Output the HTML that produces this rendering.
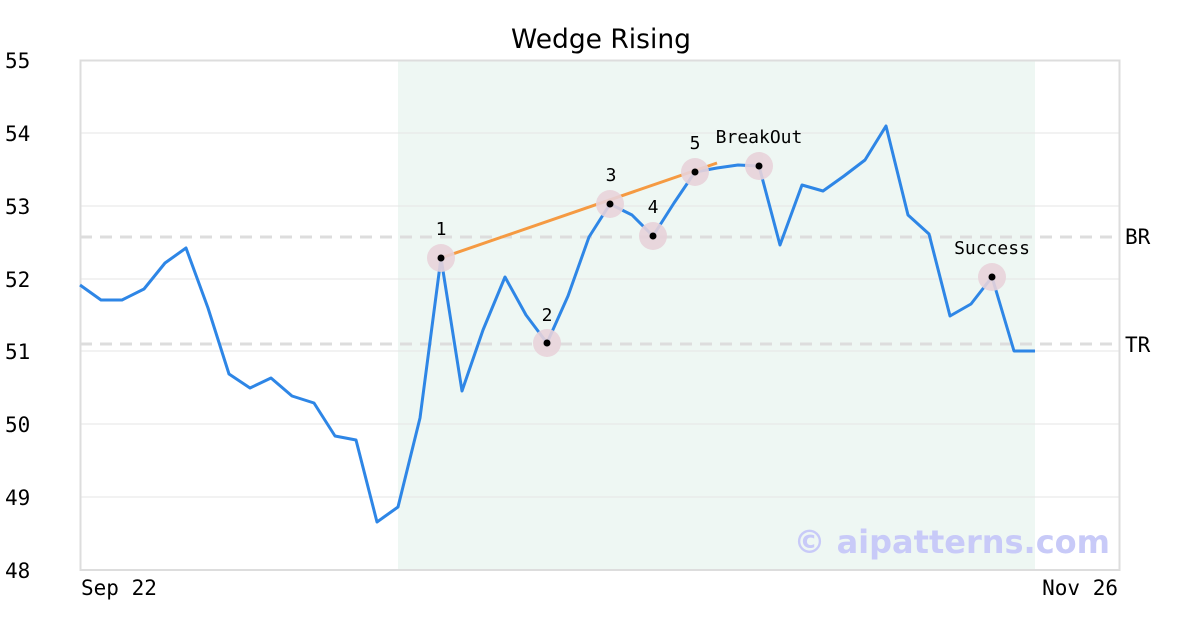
<!DOCTYPE html>
<html><head><meta charset="utf-8"><style>
html,body{margin:0;padding:0;background:#fff;}
svg{display:block;}
text{font-family:"DejaVu Sans Mono","Liberation Mono",monospace;}
</style></head><body>
<svg width="1200" height="630" viewBox="0 0 1200 630" xmlns="http://www.w3.org/2000/svg">
<rect width="1200" height="630" fill="#fff"/>
<rect x="398" y="60" width="637" height="510" fill="#eef7f3"/>
<g stroke="#e6e6e6" stroke-width="1">
<line x1="80" y1="133" x2="1120" y2="133"/>
<line x1="80" y1="206" x2="1120" y2="206"/>
<line x1="80" y1="279" x2="1120" y2="279"/>
<line x1="80" y1="351" x2="1120" y2="351"/>
<line x1="80" y1="424" x2="1120" y2="424"/>
<line x1="80" y1="497" x2="1120" y2="497"/>
</g>
<g stroke="#dddddd" stroke-width="3" stroke-dasharray="12,8">
<line x1="80" y1="237" x2="1120" y2="237"/>
<line x1="80" y1="344" x2="1120" y2="344"/>
</g>
<rect x="80.5" y="60.5" width="1039" height="509.5" fill="none" stroke="#dddddd" stroke-width="2"/>
<text x="601" y="48" font-size="26.5" text-anchor="middle" fill="#000" style="font-family:'DejaVu Sans','Liberation Sans',sans-serif">Wedge Rising</text>
<g font-size="21" fill="#000">
<text x="5" y="68">55</text><text x="5" y="141">54</text><text x="5" y="214">53</text>
<text x="5" y="287">52</text><text x="5" y="359">51</text><text x="5" y="432">50</text>
<text x="5" y="505">49</text><text x="5" y="578">48</text>
<text x="1125" y="244">BR</text><text x="1125" y="352">TR</text>
<text x="81" y="595" font-size="21">Sep 22</text><text x="1118" y="595" font-size="21" text-anchor="end">Nov 26</text>
</g>
<polyline fill="none" stroke="#2e86e6" stroke-width="3" stroke-linejoin="round" points="80,285 101,300 122,300 144,289 165,263 186,248 208,308 229,374 250,388 271,378 292,396 314,403 335,436 356,440 377,522 398,507 420,418 441,258 462,391 483,330 505,277 526,315 547,343 568,296 589,237 610,204 632,215 653,236 674,203 695,172 717,168 738,165 759,166 780,245 802,185 823,191 844,176 865,160 886,126 908,215 929,234 950,316 971,304 992,277 1014,351 1035,351"/>
<line x1="441" y1="258" x2="717" y2="163" stroke="#f59a42" stroke-width="3"/>
<g fill="#e8d3da" opacity="0.9">
<circle cx="441" cy="258" r="14"/><circle cx="547" cy="343" r="14"/><circle cx="610" cy="204" r="14"/>
<circle cx="653" cy="236" r="14"/><circle cx="695" cy="172" r="14"/><circle cx="759" cy="166" r="14"/>
<circle cx="992" cy="277" r="14"/>
</g>
<g fill="#000">
<circle cx="441" cy="258" r="3.5"/><circle cx="547" cy="343" r="3.5"/><circle cx="610" cy="204" r="3.5"/>
<circle cx="653" cy="236" r="3.5"/><circle cx="695" cy="172" r="3.5"/><circle cx="759" cy="166" r="3.5"/>
<circle cx="992" cy="277" r="3.5"/>
</g>
<g font-size="18" fill="#000" text-anchor="middle">
<text x="441" y="235">1</text><text x="547" y="321">2</text><text x="611" y="181">3</text>
<text x="653" y="213">4</text><text x="695" y="149">5</text><text x="759" y="143">BreakOut</text>
<text x="992" y="254">Success</text>
</g>
<text x="1110" y="553" text-anchor="end" font-size="32" font-weight="bold" fill="#c8caf8" style="font-family:'DejaVu Sans','Liberation Sans',sans-serif">© aipatterns.com</text>
</svg>
</body></html>
